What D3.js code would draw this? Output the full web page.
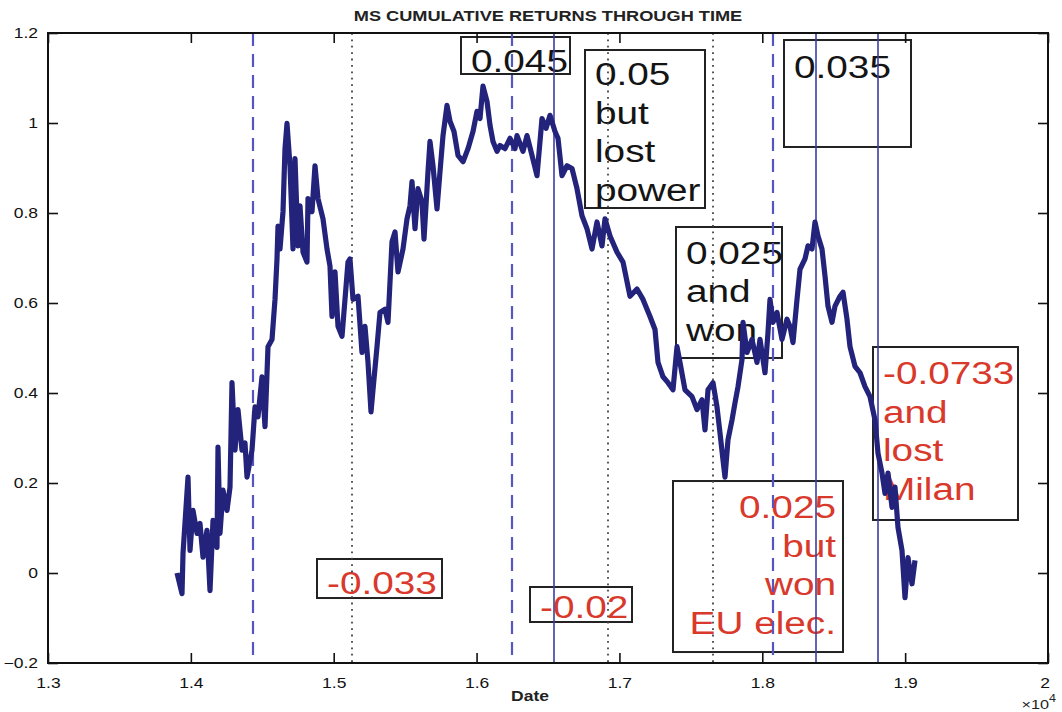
<!DOCTYPE html>
<html>
<head>
<meta charset="utf-8">
<script src="https://cdn.jsdelivr.net/npm/d3@7"></script>
<style>
  html, body { margin: 0; padding: 0; background: #fff; }
  svg { display: block; font-family: "Liberation Sans", Arial, Helvetica, sans-serif; }
</style>
</head>
<body>
<div id="chart"></div>
<script>
// Date axis in units of 10^4 (MATLAB datenum-style), cumulative returns on y
const dates = [
  1.3903, 1.3938, 1.3945, 1.3980, 1.3994, 1.4015, 1.4043, 1.4064, 1.4085, 1.4113,
  1.4134, 1.4155, 1.4183, 1.4190, 1.4204, 1.4225, 1.4253, 1.4274, 1.4288, 1.4309,
  1.4330, 1.4358, 1.4379, 1.4393, 1.4428, 1.4449, 1.4470, 1.4498, 1.4519, 1.4540,
  1.4568, 1.4589, 1.4603, 1.4610, 1.4624, 1.4645, 1.4659, 1.4673, 1.4694, 1.4715,
  1.4729, 1.4750, 1.4764, 1.4785, 1.4813, 1.4820, 1.4848, 1.4869, 1.4890, 1.4925,
  1.4953, 1.4974, 1.4988, 1.5009, 1.5030, 1.5058, 1.5079, 1.5100, 1.5114, 1.5135,
  1.5170, 1.5198, 1.5219, 1.5240, 1.5261, 1.5275, 1.5303, 1.5324, 1.5359, 1.5380,
  1.5408, 1.5429, 1.5450, 1.5485, 1.5513, 1.5534, 1.5548, 1.5569, 1.5590, 1.5618,
  1.5632, 1.5660, 1.5674, 1.5695, 1.5723, 1.5744, 1.5765, 1.5793, 1.5814, 1.5842,
  1.5870, 1.5905, 1.5940, 1.5975, 1.6003, 1.6024, 1.6045, 1.6073, 1.6094, 1.6115,
  1.6143, 1.6164, 1.6199, 1.6234, 1.6269, 1.6283, 1.6325, 1.6353, 1.6388, 1.6423,
  1.6458, 1.6486, 1.6514, 1.6549, 1.6570, 1.6598, 1.6633, 1.6668, 1.6703, 1.6738,
  1.6773, 1.6808, 1.6843, 1.6878, 1.6899, 1.6934, 1.6983, 1.7025, 1.7074, 1.7123,
  1.7165, 1.7214, 1.7249, 1.7270, 1.7305, 1.7340, 1.7375, 1.7403, 1.7424, 1.7459,
  1.7508, 1.7543, 1.7578, 1.7599, 1.7620, 1.7655, 1.7683, 1.7704, 1.7725, 1.7739,
  1.7760, 1.7788, 1.7809, 1.7830, 1.7858, 1.7865, 1.7893, 1.7928, 1.7963, 1.7984,
  1.8019, 1.8040, 1.8054, 1.8075, 1.8103, 1.8138, 1.8173, 1.8194, 1.8215, 1.8243,
  1.8264, 1.8299, 1.8320, 1.8348, 1.8369, 1.8390, 1.8418, 1.8439, 1.8460, 1.8488,
  1.8509, 1.8544, 1.8565, 1.8593, 1.8614, 1.8649, 1.8684, 1.8719, 1.8754, 1.8789,
  1.8810, 1.8838, 1.8859, 1.8880, 1.8908, 1.8929, 1.8950, 1.8978, 1.8999, 1.9020,
  1.9048, 1.9069
];
const cumReturns = [
  0.000, -0.046, 0.043, 0.213, 0.050, 0.139, 0.088, 0.110, 0.035, 0.095,
  -0.039, 0.117, 0.057, 0.280, 0.088, 0.184, 0.139, 0.191, 0.423, 0.273,
  0.363, 0.273, 0.289, 0.213, 0.273, 0.369, 0.347, 0.436, 0.325, 0.503,
  0.519, 0.608, 0.698, 0.771, 0.720, 0.803, 0.943, 0.999, 0.905, 0.720,
  0.921, 0.727, 0.816, 0.713, 0.691, 0.832, 0.803, 0.905, 0.832, 0.787,
  0.720, 0.682, 0.570, 0.669, 0.548, 0.526, 0.608, 0.691, 0.698, 0.608,
  0.615, 0.490, 0.548, 0.468, 0.358, 0.407, 0.503, 0.579, 0.586, 0.557,
  0.736, 0.758, 0.669, 0.720, 0.787, 0.816, 0.870, 0.765, 0.854, 0.825,
  0.742, 0.892, 0.959, 0.905, 0.809, 0.892, 0.972, 1.039, 1.004, 0.981,
  0.928, 0.914, 0.943, 0.981, 1.026, 1.010, 1.082, 1.048, 0.995, 0.959,
  0.937, 0.950, 0.943, 0.966, 0.943, 0.972, 0.937, 0.972, 0.928, 0.883,
  1.010, 0.988, 1.017, 0.981, 0.966, 0.883, 0.905, 0.899, 0.854, 0.794,
  0.765, 0.720, 0.780, 0.727, 0.787, 0.749, 0.713, 0.691, 0.615, 0.631,
  0.608, 0.570, 0.541, 0.468, 0.436, 0.423, 0.407, 0.503, 0.468, 0.407,
  0.392, 0.363, 0.385, 0.318, 0.407, 0.423, 0.369, 0.311, 0.251, 0.213,
  0.296, 0.340, 0.378, 0.414, 0.474, 0.557, 0.490, 0.519, 0.468, 0.519,
  0.445, 0.535, 0.608, 0.557, 0.579, 0.519, 0.564, 0.548, 0.512, 0.608,
  0.675, 0.698, 0.727, 0.720, 0.780, 0.749, 0.720, 0.660, 0.593, 0.557,
  0.593, 0.615, 0.624, 0.564, 0.503, 0.459, 0.445, 0.414, 0.392, 0.340,
  0.266, 0.222, 0.177, 0.222, 0.146, 0.191, 0.101, 0.050, -0.055, 0.034,
  -0.024, 0.028
];

// event markers (same x units)
const dashedEvents = [1.4435, 1.6248, 1.8075];
const dottedEvents = [1.5128, 1.6920, 1.7655];
const solidEvents  = [1.6542, 1.8376, 1.8810];

const xTicks = [1.3, 1.4, 1.5, 1.6, 1.7, 1.8, 1.9, 2.0];
const yTicks = [-0.2, 0, 0.2, 0.4, 0.6, 0.8, 1.0, 1.2];

const noteTexts = [
  ["0.045"],
  ["0.05", "but", "lost", "power"],
  ["0.035"],
  ["0.025", "and", "won"],
  ["-0.0733", "and", "lost", "Milan"],
  ["0.025", "but", "won", "EU elec."],
  ["-0.033"],
  ["-0.02"]
];
const noteIsLoss = [false, false, false, false, true, true, true, true];

const width = 1062, height = 712;
const plot = { left: 48, right: 1048, top: 33, bottom: 663 };

const svg = d3.select("#chart").append("svg")
  .attr("width", width)
  .attr("height", height);

const x = d3.scaleLinear().domain([1.3, 2.0]).range([plot.left, plot.right]);
const y = d3.scaleLinear().domain([-0.2, 1.2]).range([plot.bottom, plot.top]);

const SX = 1.25; // the source picture is stretched sideways

// annotation boxes, corners in data units
const noteLayout = [
  { x0: 1.5891, x1: 1.6654, y0: 1.1911, y1: 1.1089, dy: 35, align: "start" },
  { x0: 1.6759, x1: 1.7599, y0: 1.1622, y1: 0.8111, dy: 35, align: "start" },
  { x0: 1.8152, x1: 1.9041, y0: 1.1844, y1: 0.9467, dy: 38, align: "start" },
  { x0: 1.7396, x1: 1.8138, y0: 0.7689, y1: 0.4778, dy: 37, align: "start" },
  { x0: 1.8775, x1: 1.9790, y0: 0.5022, y1: 0.1178, dy: 37, align: "start" },
  { x0: 1.7375, x1: 1.8565, y0: 0.2044, y1: -0.1756, dy: 37, align: "end" },
  { x0: 1.4883, x1: 1.5758, y0: 0.0311, y1: -0.0556, dy: 35, align: "start" },
  { x0: 1.6374, x1: 1.7088, y0: -0.0311, y1: -0.1089, dy: 31, align: "start" }
];

const notes = svg.append("g").attr("class", "notes");
noteLayout.forEach((b, i) => {
  const g = notes.append("g");
  const bx0 = x(b.x0), bx1 = x(b.x1), by0 = y(b.y0), by1 = y(b.y1);
  g.append("rect")
    .attr("x", bx0).attr("y", by0)
    .attr("width", bx1 - bx0).attr("height", by1 - by0)
    .attr("fill", "none")
    .attr("stroke", "#222")
    .attr("stroke-width", 2);
  const tx = b.align === "end" ? bx1 - 7 : bx0 + 10;
  noteTexts[i].forEach((line, j) => {
    const ty = by0 + b.dy + j * 38.5;
    g.append("text")
      .attr("transform", `translate(${tx},${ty}) scale(${SX},1)`)
      .attr("text-anchor", b.align)
      .style("font-size", "31px")
      .style("fill", noteIsLoss[i] ? "#d8392b" : "#141414")
      .text(line);
  });
});

// vertical event lines
const events = svg.append("g").attr("class", "events");
events.selectAll(".ev-dash").data(dashedEvents).join("line")
  .attr("x1", d => x(d)).attr("x2", d => x(d))
  .attr("y1", plot.top).attr("y2", plot.bottom)
  .attr("stroke", "#5656c2").attr("stroke-width", 2.2)
  .attr("stroke-dasharray", "13,8");
events.selectAll(".ev-dot").data(dottedEvents).join("line")
  .attr("x1", d => x(d)).attr("x2", d => x(d))
  .attr("y1", plot.top).attr("y2", plot.bottom)
  .attr("stroke", "#444").attr("stroke-width", 1.8)
  .attr("stroke-dasharray", "1.8,4.6");
events.selectAll(".ev-solid").data(solidEvents).join("line")
  .attr("x1", d => x(d)).attr("x2", d => x(d))
  .attr("y1", plot.top).attr("y2", plot.bottom)
  .attr("stroke", "#3c3ca6").attr("stroke-width", 1.6);

// the return series
const series = dates.map((d, i) => ({ date: d, value: cumReturns[i] }));
svg.append("path")
  .datum(series)
  .attr("fill", "none")
  .attr("stroke", "#23237c")
  .attr("stroke-width", 5.2)
  .attr("stroke-linejoin", "round")
  .attr("d", d3.line().x(d => x(d.date)).y(d => y(d.value)));

// axes, MATLAB style: inward ticks on all sides
const fmt = d => d3.format("~g")(+d.toFixed(2));
const xAxis = svg.append("g")
  .attr("transform", `translate(0,${plot.bottom})`)
  .call(d3.axisBottom(x).tickValues(xTicks).tickFormat(fmt)
    .tickSizeInner(-10).tickSizeOuter(0).tickPadding(15));
svg.append("g")
  .attr("transform", `translate(0,${plot.top})`)
  .call(d3.axisTop(x).tickValues(xTicks).tickFormat("")
    .tickSizeInner(-10).tickSizeOuter(0));
const yAxis = svg.append("g")
  .attr("transform", `translate(${plot.left},0)`)
  .call(d3.axisLeft(y).tickValues(yTicks).tickFormat(fmt)
    .tickSizeInner(-10).tickSizeOuter(0).tickPadding(8));
svg.append("g")
  .attr("transform", `translate(${plot.right},0)`)
  .call(d3.axisRight(y).tickValues(yTicks).tickFormat("")
    .tickSizeInner(-10).tickSizeOuter(0));

svg.selectAll(".domain").remove();
svg.selectAll(".tick line").attr("stroke", "#111").attr("stroke-width", 1.6);
[xAxis, yAxis].forEach(a => a.selectAll("text")
  .attr("transform", `scale(${SX},1)`)
  .style("font-size", "14px")
  .style("fill", "#111"));
// keep the last x label inside the frame, like the reference
xAxis.selectAll(".tick text").filter(d => d === 2.0).attr("dx", "-0.2em");

svg.append("rect")
  .attr("x", plot.left).attr("y", plot.top)
  .attr("width", plot.right - plot.left).attr("height", plot.bottom - plot.top)
  .attr("fill", "none").attr("stroke", "#111").attr("stroke-width", 2);

// titles
svg.append("text")
  .attr("transform", `translate(548,21) scale(1.3,1)`)
  .attr("text-anchor", "middle")
  .style("font-size", "14px").style("font-weight", "bold").style("fill", "#222")
  .text("MS CUMULATIVE RETURNS THROUGH TIME");

svg.append("text")
  .attr("transform", `translate(530,701) scale(${SX},1)`)
  .attr("text-anchor", "middle")
  .style("font-size", "14px").style("font-weight", "bold").style("fill", "#222")
  .text("Date");

const mult = svg.append("text")
  .attr("transform", `translate(1056,709) scale(${SX},1)`)
  .attr("text-anchor", "end")
  .style("font-size", "13px").style("fill", "#222");
mult.append("tspan").text("\u00d710");
mult.append("tspan").attr("dy", -7).style("font-size", "10px").text("4");
</script>
</body>
</html>
